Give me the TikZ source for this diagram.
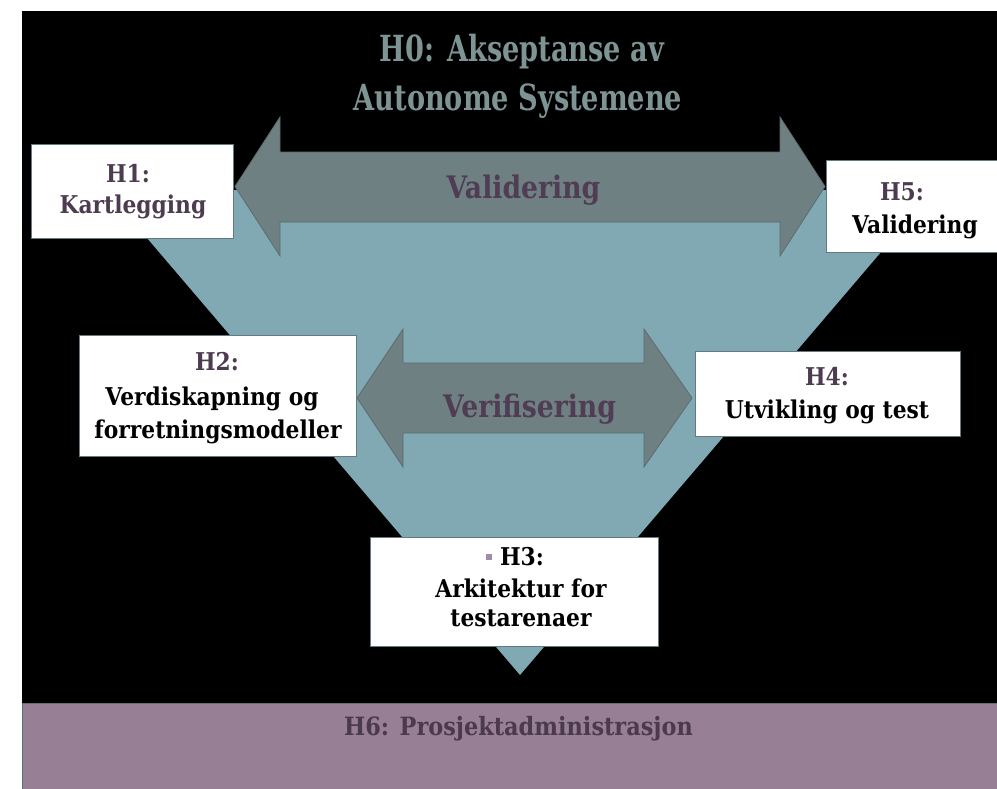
\documentclass[tikz,border=0pt]{standalone}
\usepackage{fontspec}
\setmainfont{DejaVu Serif}
\newfontfamily\boxfont{DejaVu Serif}[FakeStretch=0.89]
\newfontfamily\arrowfont{DejaVu Serif}[FakeStretch=0.86]
\newfontfamily\titlefont{DejaVu Serif}[FakeStretch=0.755]
\definecolor{vteal}{RGB}{128,169,180}
\definecolor{varrow}{RGB}{110,128,130}
\definecolor{varrowline}{RGB}{92,108,110}
\definecolor{varrowtext}{RGB}{80,60,84}
\definecolor{hpurple}{RGB}{77,59,80}
\definecolor{vtitle}{RGB}{126,148,148}
\definecolor{vband}{RGB}{151,127,150}
\definecolor{vbandline}{RGB}{95,112,116}
\definecolor{vbandtext}{RGB}{74,58,76}
\definecolor{vbullet}{RGB}{160,140,170}
\definecolor{vboxline}{RGB}{98,122,128}
\begin{document}
\begin{tikzpicture}[x=1bp,y=-1bp,
  hbox/.style={draw=vboxline, line width=1bp, fill=white, inner sep=0pt},
  boxtxt/.style={anchor=base, inner sep=0pt, font=\boxfont\bfseries\fontsize{24.5bp}{30bp}\selectfont},
  arrtxt/.style={anchor=base, inner sep=0pt, text=varrowtext, font=\arrowfont\bfseries\fontsize{31bp}{36bp}\selectfont},
  ttltxt/.style={anchor=base, inner sep=0pt, text=vtitle, font=\titlefont\bfseries\fontsize{36bp}{44bp}\selectfont},
  bandtxt/.style={anchor=base, inner sep=0pt, text=vbandtext, font=\boxfont\bfseries\fontsize{25.2bp}{30bp}\selectfont},
  arrowshape/.style={fill=varrow, draw=varrowline, line width=0.8bp, line join=miter}
]
\useasboundingbox (0,0) rectangle (997,789);
\fill[white] (0,0) rectangle (997,789);
\fill[black] (22,11) rectangle (997,703);
\draw[fill=vband, draw=vbandline, line width=1bp] (22,703) rectangle (1000,792);

% triangle
\fill[vteal] (106,190) -- (934,190) -- (520,675) -- cycle;

% title
\node[ttltxt] (t1) at (522,62) {H0: Akseptanse av};
\node[ttltxt] (t2) at (518,110) {Autonome Systemene};

% validering arrow
\draw[arrowshape] (235,186.5) -- (280,117) -- (280,152) -- (780,152) -- (780,117)
  -- (825,186.5) -- (780,256) -- (780,222) -- (280,222) -- (280,256) -- cycle;
\node[arrtxt] (va) at (523.5,198) {Validering};

% verifisering arrow
\draw[arrowshape] (357,398) -- (403,329) -- (403,363) -- (644,363) -- (644,329)
  -- (692,398) -- (644,467) -- (644,433) -- (403,433) -- (403,467) -- cycle;
\node[arrtxt] (ve) at (529.5,417) {Verifisering};

% H1
\node[hbox, minimum width=201bp, minimum height=94bp] (h1) at (132.5,191) {};
\node[boxtxt, text=hpurple] (h1a) at (128,182) {H1:};
\node[boxtxt, text=hpurple] (h1b) at (133,213) {Kartlegging};

% H5
\node[hbox, minimum width=173bp, minimum height=92bp] (h5) at (912.5,206) {};
\node[boxtxt, text=hpurple] (h5a) at (902,200) {H5:};
\node[boxtxt, text=black] (h5b) at (915,233) {Validering};

% H2
\node[hbox, minimum width=276bp, minimum height=121bp] (h2) at (218,395.5) {};
\node[boxtxt, text=hpurple] (h2a) at (217,370) {H2:};
\node[boxtxt, text=black] (h2b) at (212,405) {Verdiskapning og};
\node[boxtxt, text=black] (h2c) at (218,438) {forretningsmodeller};

% H4
\node[hbox, minimum width=265bp, minimum height=85bp] (h4) at (827.5,393.5) {};
\node[boxtxt, text=hpurple] (h4a) at (827,385) {H4:};
\node[boxtxt, text=black] (h4b) at (827,418) {Utvikling og test};

% H3
\node[hbox, minimum width=288bp, minimum height=109bp] (h3) at (514,591.5) {};
\fill[vbullet] (485.5,554) rectangle (491.5,560);
\node[boxtxt, text=black] (h3a) at (522,565) {H3:};
\node[boxtxt, text=black] (h3b) at (521,597) {Arkitektur for};
\node[boxtxt, text=black] (h3c) at (521,626) {testarenaer};

% H6
\node[bandtxt] (h6) at (518.5,735) {H6: Prosjektadministrasjon};
\end{tikzpicture}
\end{document}
